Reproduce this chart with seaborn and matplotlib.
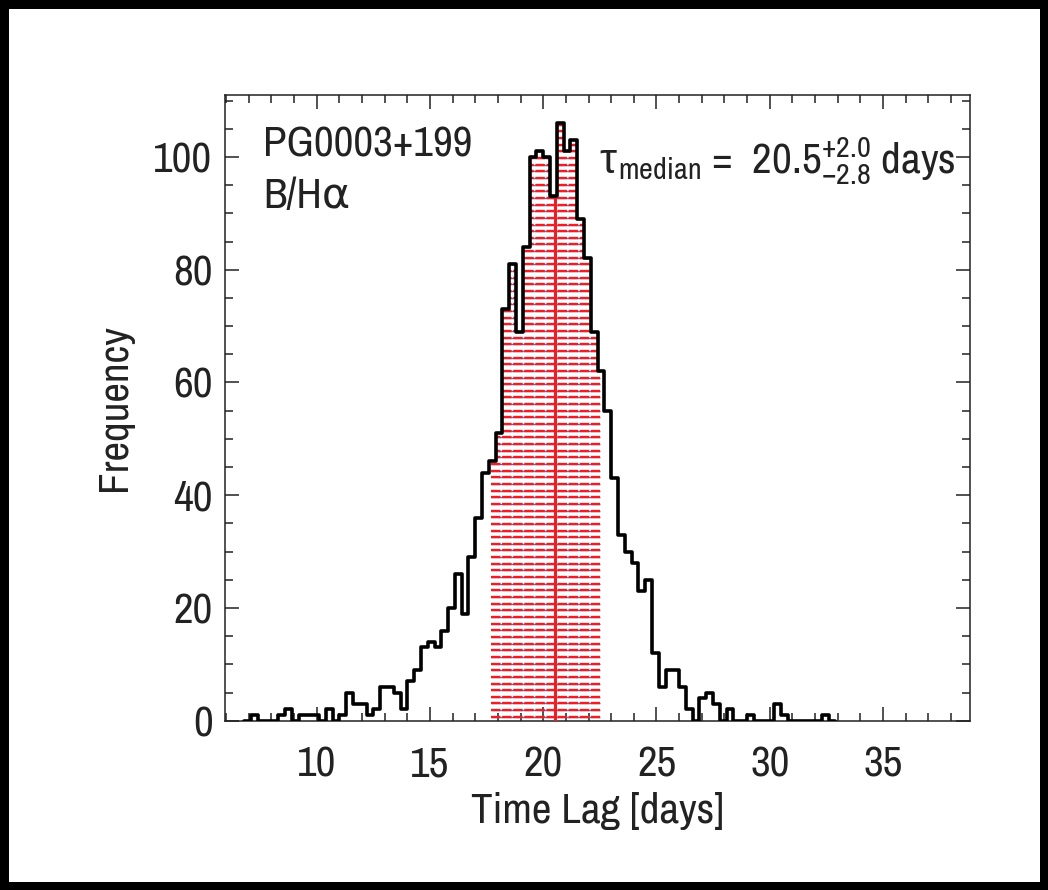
import numpy as np
import pandas as pd
import matplotlib
matplotlib.use('Agg')
import matplotlib.pyplot as plt
import seaborn as sns
from matplotlib import font_manager as fm
from matplotlib.ticker import MultipleLocator
from matplotlib.patches import PathPatch
from matplotlib.transforms import offset_copy

# lag distribution, 0.3 day bins starting at 6.8 days
bin_start = 6.8
bin_width = 0.3
counts = [0, 1, 0, 0, 0, 1, 2, 0, 1, 1, 1, 0, 2, 0, 1, 5, 3, 3, 1, 2,
          6, 6, 5, 2, 7, 9, 13, 14, 13, 16, 20, 26, 19, 29, 36, 44, 46, 51, 73, 81,
          69, 84, 100, 101, 100, 93, 106, 101, 103, 89, 82, 69, 62, 55, 43, 33, 30, 28, 23, 25,
          12, 6, 9, 9, 6, 2, 0, 4, 5, 3, 0, 2, 0, 0, 1, 0, 0, 0, 3, 1,
          0, 0, 0, 0, 0, 1, 0]
tau_median = 20.5
tau_err_hi = 2.0
tau_err_lo = 2.8
object_name = 'PG0003+199'
line_pair = 'B/H\u03b1'

edges = bin_start + bin_width * np.arange(len(counts) + 1)
centers = edges[:-1] + bin_width / 2
df = pd.DataFrame({'lag': centers, 'n': np.array(counts, dtype=float)})

# look for a narrow sans face (IDL-like lettering)
narrow_name, narrow_stretch = None, 'normal'
for f in fm.fontManager.ttflist:
    if f.style != 'normal' or f.weight not in (400, 'normal', 'regular'):
        continue
    if 'Mono' in f.name or 'Serif' in f.name or 'CJK' in f.name:
        continue
    if 'Narrow' in f.name or 'Condensed' in f.name:
        narrow_name, narrow_stretch = f.name, 'normal'
        break
    if f.stretch in ('condensed', 'semi-condensed') and narrow_name is None:
        narrow_name, narrow_stretch = f.name, f.stretch

sns.set_style('ticks')
if narrow_name:
    plt.rcParams['font.family'] = [narrow_name, 'DejaVu Sans']
    plt.rcParams['font.stretch'] = narrow_stretch
    base = 31
    math_font = narrow_name + ':stretch=' + narrow_stretch
else:
    plt.rcParams['font.family'] = ['Liberation Sans', 'DejaVu Sans']
    base = 27
    math_font = 'Liberation Sans'
plt.rcParams['mathtext.fontset'] = 'custom'
plt.rcParams['mathtext.rm'] = math_font
plt.rcParams['mathtext.it'] = math_font
plt.rcParams['mathtext.bf'] = math_font

ink = '#222222'
red_c = '#f01e23'

fig = plt.figure(figsize=(10.48, 8.90), dpi=100)
fig.patch.set_edgecolor('black')
fig.patch.set_linewidth(12)
ax = fig.add_axes([0.2147, 0.1902, 0.711, 0.7031])

# invisible step polygon used to clip the shading
poly = ax.fill_between(edges, np.append(counts, counts[-1]),
                       step='post', color='none', linewidth=0)
clip = PathPatch(poly.get_paths()[0], transform=ax.transData,
                 facecolor='none', edgecolor='none')
ax.add_patch(clip)

lo = tau_median - tau_err_lo
hi = tau_median + tau_err_hi
ys = np.arange(0.7, 112, 1.18)
blue = ax.hlines(ys, lo, hi, colors='#5d6fc0', linewidth=1.0, zorder=2)
red = ax.hlines(ys, lo, hi, colors=red_c, linewidth=1.7,
                linestyles=(0, (4.0, 0.7)), zorder=3)
blue.set_clip_path(clip)
red.set_clip_path(clip)
med = ax.axvline(tau_median, color=red_c, linewidth=2.2, zorder=4)
med.set_clip_path(clip)

sns.histplot(data=df, x='lag', weights='n', binwidth=bin_width,
             binrange=(edges[0], edges[-1]), element='step', fill=False,
             color='black', linewidth=2.6, ax=ax, zorder=5)

ax.set_xlim(5.95, 38.85)
ax.set_ylim(0, 111)
ax.xaxis.set_major_locator(MultipleLocator(5))
ax.xaxis.set_minor_locator(MultipleLocator(1))
ax.yaxis.set_major_locator(MultipleLocator(20))
ax.yaxis.set_minor_locator(MultipleLocator(5))
ax.tick_params(which='both', direction='in', top=True, right=True, width=1.1,
               colors=ink, labelcolor=ink, labelsize=base)
ax.tick_params(which='major', length=10)
ax.tick_params(which='minor', length=5.5)
ax.tick_params(axis='x', pad=18)
ax.tick_params(axis='y', pad=9)
for s in ax.spines.values():
    s.set_linewidth(1.1)
    s.set_color(ink)

ax.set_xlabel('Time Lag [days]', fontsize=base, color=ink, labelpad=6)
ax.set_ylabel('Frequency', fontsize=base, color=ink, labelpad=15)

ax.text(0.051, 0.901, object_name, transform=ax.transAxes, fontsize=base,
        color=ink, va='baseline')
ax.text(0.051, 0.820, line_pair, transform=ax.transAxes, fontsize=base,
        color=ink, va='baseline')

# tau in a face that has the glyph, rest of the label right after it
tau_txt = ax.text(0.503, 0.875, '\u03c4', transform=ax.transAxes,
                  fontsize=base, color=ink, va='baseline',
                  family=['Liberation Sans', 'DejaVu Sans'])
fig.canvas.draw()
tau_w = tau_txt.get_window_extent(fig.canvas.get_renderer()).width
ax.text(0.503, 0.875,
        r'$_{\mathrm{median}}$ =  '
        + r'%.1f$^{+%.1f}_{-%.1f}$ days' % (tau_median, tau_err_hi, tau_err_lo),
        transform=offset_copy(ax.transAxes, fig=fig, x=tau_w + 1, y=0, units='dots'),
        fontsize=base, color=ink, va='baseline')

fig.savefig('out.png', dpi=100, facecolor='white', edgecolor='black')
